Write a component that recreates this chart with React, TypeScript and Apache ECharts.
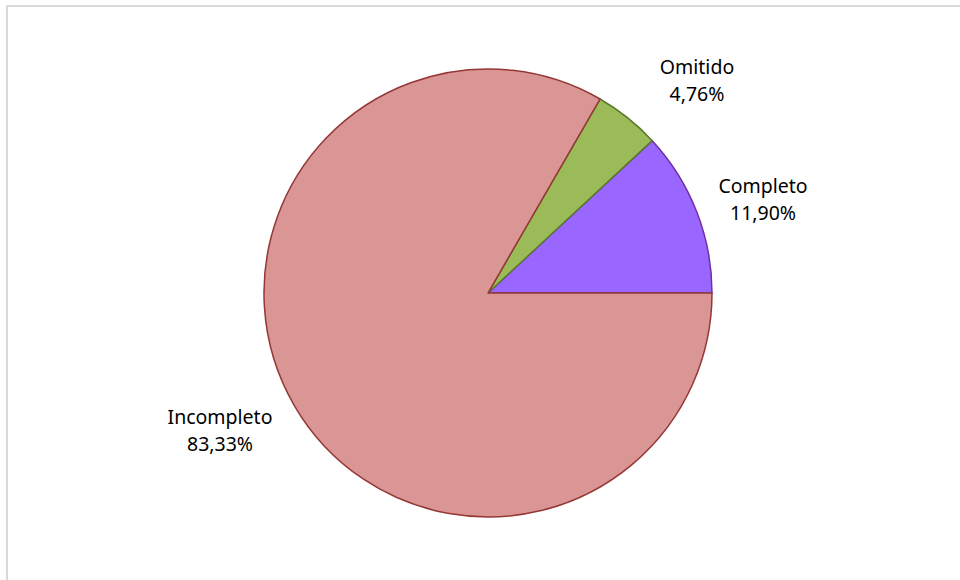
import React, { useEffect, useRef } from "react";
import * as echarts from "echarts";

const categories = ["Completo", "Omitido", "Incompleto"];
const values = [5, 2, 35];
const percentLabels = ["11,90%", "4,76%", "83,33%"];
const fillColors = ["#9966FF", "#9BBB59", "#D99694"];
const borderColors = ["#7030A0", "#5A7A2B", "#953735"];
const labelPositions = [
  [763, 199],
  [697, 80],
  [220, 430],
];

export default function App() {
  const ref = useRef<HTMLDivElement>(null);
  useEffect(() => {
    if (!ref.current) return;
    const chart = echarts.init(ref.current, undefined, { renderer: "svg" });
    chart.setOption({
      animation: false,
      backgroundColor: "#ffffff",
      graphic: [
        {
          type: "rect",
          shape: { x: 7, y: 6, width: 1200, height: 1000 },
          style: { fill: "none", stroke: "#D9D9D9", lineWidth: 2 },
          silent: true,
        },
      ],
      series: [
        {
          type: "pie",
          center: [488, 293],
          radius: 224,
          startAngle: 0,
          clockwise: false,
          avoidLabelOverlap: false,
          label: {
            show: true,
            position: "outside",
            formatter: (p: any) => `${categories[p.dataIndex]}\n${percentLabels[p.dataIndex]}`,
            fontFamily: "'Noto Sans', 'Liberation Sans', sans-serif",
            fontSize: 19.5,
            lineHeight: 27,
            color: "#000000",
            align: "center",
          },
          labelLine: { show: false },
          labelLayout: (params: any) => {
            const pos = labelPositions[params.dataIndex];
            return { x: pos[0], y: pos[1], align: "center", verticalAlign: "middle" };
          },
          emphasis: { disabled: true },
          data: categories.map((c, i) => ({
            name: c,
            value: values[i],
            itemStyle: { color: fillColors[i], borderColor: borderColors[i], borderWidth: 1.5 },
          })),
        },
      ],
    });
    return () => chart.dispose();
  }, []);
  return (
    <div
      ref={ref}
      style={{ position: "absolute", left: 0, top: 0, width: 960, height: 580 }}
    />
  );
}
